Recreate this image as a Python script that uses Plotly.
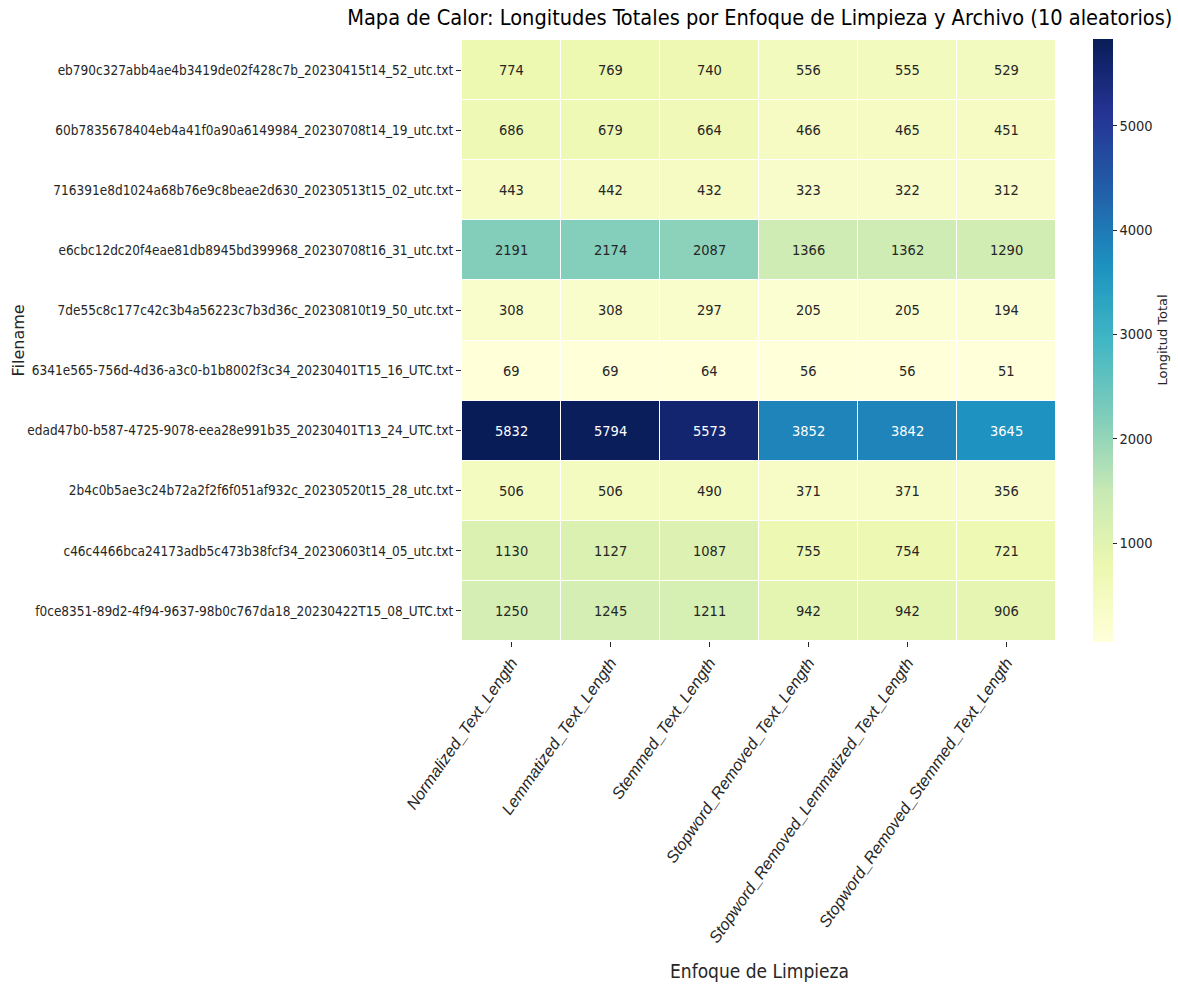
import plotly.graph_objects as go
import plotly.colors as pc

# Cleaning approaches (columns) and sampled files (rows)
approaches = [
    "Normalized_Text_Length",
    "Lemmatized_Text_Length",
    "Stemmed_Text_Length",
    "Stopword_Removed_Text_Length",
    "Stopword_Removed_Lemmatized_Text_Length",
    "Stopword_Removed_Stemmed_Text_Length",
]

filenames = [
    "eb790c327abb4ae4b3419de02f428c7b_20230415t14_52_utc.txt",
    "60b7835678404eb4a41f0a90a6149984_20230708t14_19_utc.txt",
    "716391e8d1024a68b76e9c8beae2d630_20230513t15_02_utc.txt",
    "e6cbc12dc20f4eae81db8945bd399968_20230708t16_31_utc.txt",
    "7de55c8c177c42c3b4a56223c7b3d36c_20230810t19_50_utc.txt",
    "6341e565-756d-4d36-a3c0-b1b8002f3c34_20230401T15_16_UTC.txt",
    "edad47b0-b587-4725-9078-eea28e991b35_20230401T13_24_UTC.txt",
    "2b4c0b5ae3c24b72a2f2f6f051af932c_20230520t15_28_utc.txt",
    "c46c4466bca24173adb5c473b38fcf34_20230603t14_05_utc.txt",
    "f0ce8351-89d2-4f94-9637-98b0c767da18_20230422T15_08_UTC.txt",
]

# Total lengths per file, one list per row
row_eb790 = [774, 769, 740, 556, 555, 529]
row_60b78 = [686, 679, 664, 466, 465, 451]
row_71639 = [443, 442, 432, 323, 322, 312]
row_e6cbc = [2191, 2174, 2087, 1366, 1362, 1290]
row_7de55 = [308, 308, 297, 205, 205, 194]
row_6341e = [69, 69, 64, 56, 56, 51]
row_edad4 = [5832, 5794, 5573, 3852, 3842, 3645]
row_2b4c0 = [506, 506, 490, 371, 371, 356]
row_c46c4 = [1130, 1127, 1087, 755, 754, 721]
row_f0ce8 = [1250, 1245, 1211, 942, 942, 906]

lengths = [row_eb790, row_60b78, row_71639, row_e6cbc, row_7de55,
           row_6341e, row_edad4, row_2b4c0, row_c46c4, row_f0ce8]

colorbar_ticks = [1000, 2000, 3000, 4000, 5000]

NARROW = "DejaVu Sans Condensed, Liberation Sans Narrow, DejaVu Sans, sans-serif"
WIDE = "DejaVu Sans, sans-serif"
SLANTED = "Liberation Sans, Arial, sans-serif"
TEXT = "#262626"

scale = pc.sequential.YlGnBu
zmin = min(min(r) for r in lengths)
zmax = max(max(r) for r in lengths)


def text_color(v):
    # pick dark or light annotation text based on cell luminance
    frac = (v - zmin) / (zmax - zmin)
    col = pc.sample_colorscale(scale, [frac])[0]
    rgb = [float(c) / 255 for c in col[col.index("(") + 1:col.index(")")].split(",")]
    lin = [c / 12.92 if c <= 0.04045 else ((c + 0.055) / 1.055) ** 2.4 for c in rgb]
    lum = 0.2126 * lin[0] + 0.7152 * lin[1] + 0.0722 * lin[2]
    return "white" if lum <= 0.408 else TEXT


fig = go.Figure(
    go.Heatmap(
        z=lengths,
        x=approaches,
        y=filenames,
        colorscale=scale,
        zmin=zmin,
        zmax=zmax,
        xgap=1,
        ygap=1,
        colorbar=dict(
            tickvals=colorbar_ticks,
            ticks="outside",
            ticklen=4,
            tickcolor=TEXT,
            tickfont=dict(family=NARROW, size=14.5, color=TEXT),
            thickness=20,
            len=1.003,
            lenmode="fraction",
            ypad=0,
            xpad=0,
            x=1.0623,
            xanchor="left",
            y=0.5,
            yanchor="middle",
            outlinewidth=0,
        ),
        hoverongaps=False,
    )
)

annotations = []
for i, fname in enumerate(filenames):
    for j, appr in enumerate(approaches):
        v = lengths[i][j]
        annotations.append(dict(
            x=appr, y=fname, xref="x", yref="y", text=str(v),
            showarrow=False,
            font=dict(family=NARROW, size=14.5, color=text_color(v)),
        ))

# axis and colorbar titles
annotations.append(dict(
    text="Enfoque de Limpieza", xref="paper", yref="paper",
    x=0.5, y=-0.549, xanchor="center", yanchor="middle", showarrow=False,
    font=dict(family=NARROW, size=19, color=TEXT),
))
annotations.append(dict(
    text="Filename", xref="paper", yref="paper", textangle=-90,
    x=(18 - 462) / 594, y=0.5, xanchor="center", yanchor="middle",
    showarrow=False,
    font=dict(family=WIDE, size=16, color=TEXT),
))
annotations.append(dict(
    text="Longitud Total", xref="paper", yref="paper", textangle=-90,
    x=(1162 - 462) / 594, y=0.5, xanchor="center", yanchor="middle",
    showarrow=False,
    font=dict(family=WIDE, size=13, color=TEXT),
))

fig.update_layout(
    width=1178,
    height=989,
    margin=dict(l=462, r=122, t=40, b=348),
    paper_bgcolor="white",
    plot_bgcolor="white",
    title=dict(
        text="Mapa de Calor: Longitudes Totales por Enfoque de Limpieza y Archivo (10 aleatorios)",
        x=0.645, xanchor="center", y=0.982, yanchor="middle",
        font=dict(family=NARROW, size=21.6, color="black"),
    ),
    annotations=annotations,
    xaxis=dict(
        tickangle=-55,
        ticks="outside",
        ticklen=5,
        tickcolor=TEXT,
        tickvals=approaches,
        ticktext=["<i>" + a + "</i>" for a in approaches],
        tickfont=dict(family=SLANTED, size=16.3, color=TEXT, style="italic"),
        showgrid=False,
        zeroline=False,
        automargin=False,
    ),
    yaxis=dict(
        autorange="reversed",
        ticks="outside",
        ticklen=5,
        tickcolor=TEXT,
        tickfont=dict(family=NARROW, size=13.5, color=TEXT),
        showgrid=False,
        zeroline=False,
        automargin=False,
    ),
)

fig.write_html("out.html")
